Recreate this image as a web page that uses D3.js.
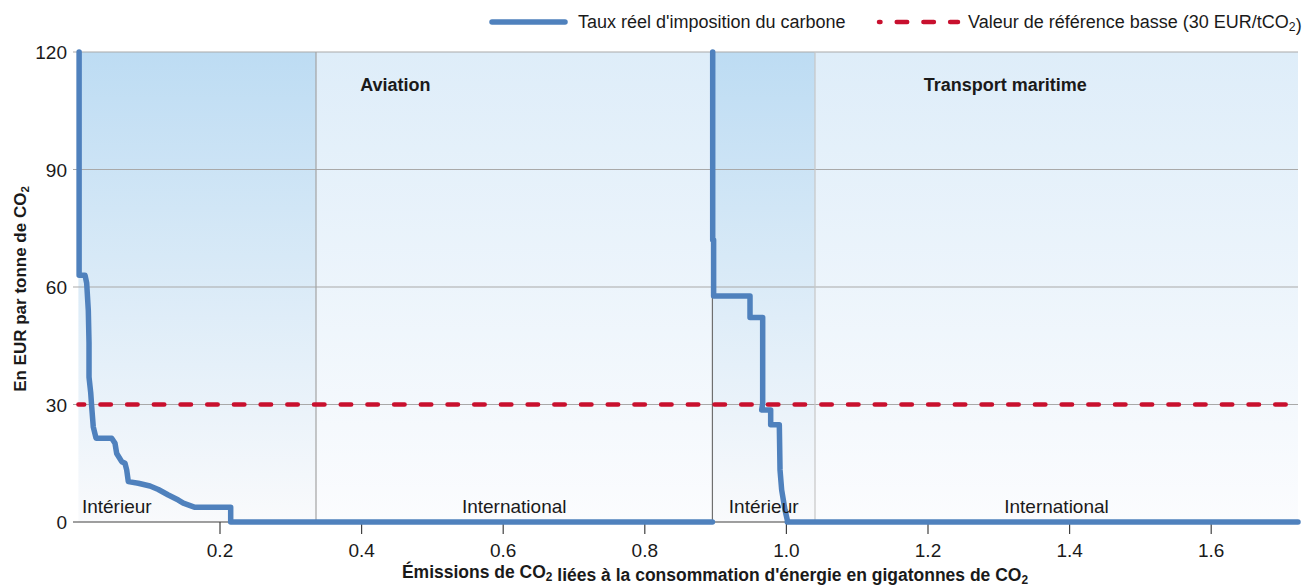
<!DOCTYPE html>
<html><head><meta charset="utf-8">
<script src="https://cdn.jsdelivr.net/npm/d3@7"></script>
<style>
body{margin:0;background:#fff;}
text{font-family:"Liberation Sans",Arial,sans-serif;fill:#1a1a1a;}
</style></head><body>
<svg id="chart" width="1309" height="586"></svg>
<script>
// ---- data ----
const aviationX = [0.001, 0.001, 0.0094, 0.0117, 0.014, 0.015, 0.015, 0.0174, 0.0188, 0.021, 0.0249, 0.047, 0.0517, 0.0541, 0.0612, 0.0658, 0.0682, 0.0705, 0.0846, 0.1011, 0.1129, 0.127, 0.1411, 0.1482, 0.1647, 0.2151, 0.2151, 0.8955];
const aviationY = [120, 63, 63, 61, 54, 45.7, 37, 33, 29.4, 24.3, 21.4, 21.4, 20.1, 17.5, 15.4, 15, 13.3, 10.3, 9.9, 9.2, 8.3, 6.9, 5.6, 4.8, 3.75, 3.75, 0, 0];
const maritimeX = [0.8959, 0.8959, 0.8972, 0.8972, 0.9486, 0.9486, 0.9665, 0.9665, 0.9651, 0.9778, 0.9778, 0.990, 0.991, 0.9933, 0.998, 1.0013, 1.0013, 1.7226];
const maritimeY = [120, 72, 72, 57.7, 57.7, 52.2, 52.2, 30.3, 28.6, 28.6, 24.8, 24.8, 13.3, 8.2, 3.1, 0.5, 0, 0];
const segmentBounds = [0, 0.3356, 0.8955, 1.0404, 1.7226];
const segmentLabels = ["Intérieur", "International", "Intérieur", "International"];
const sectorLabels = ["Aviation", "Transport maritime"];
const referenceValue = 30;
const xTicks = [0.2, 0.4, 0.6, 0.8, 1.0, 1.2, 1.4, 1.6];
const yTicks = [0, 30, 60, 90, 120];
const legendLabels = ["Taux réel d'imposition du carbone", "Valeur de référence basse (30 EUR/tCO₂)"];
const yTitle = "En EUR par tonne de CO₂";
const xTitle = "Émissions de CO₂ liées à la consommation d'énergie en gigatonnes de CO₂";

// ---- setup ----
const svg = d3.select("#chart");
const x = d3.scaleLinear().domain([0, 1.7226]).range([78.4, 1298]);
const y = d3.scaleLinear().domain([0, 120]).range([522, 52]);
const BLUE = "#4f81bd", RED = "#c8102e";

function addText(sel, str) {
  const parts = str.split("₂");
  parts.forEach((p, i) => {
    sel.append("tspan").text(p);
    if (i < parts.length - 1) {
      sel.append("tspan").attr("font-size", "0.68em").attr("dy", "0.25em").text("2");
      sel.append("tspan").attr("dy", "-0.25em").text("");
    }
  });
}

const defs = svg.append("defs");
function grad(id, c0, c1) {
  const g = defs.append("linearGradient").attr("id", id).attr("x1", 0).attr("y1", 0).attr("x2", 0).attr("y2", 1);
  g.append("stop").attr("offset", 0).attr("stop-color", c0);
  g.append("stop").attr("offset", 1).attr("stop-color", c1);
}
grad("gDom", "#bddcf3", "#f9fafc");
grad("gInt", "#deedf9", "#fbfcfe");

// backgrounds
svg.selectAll("rect.bg").data(segmentLabels).enter().append("rect")
  .attr("x", (d, i) => x(segmentBounds[i]))
  .attr("width", (d, i) => x(segmentBounds[i + 1]) - x(segmentBounds[i]))
  .attr("y", y(120)).attr("height", y(0) - y(120))
  .attr("fill", (d, i) => i % 2 === 0 ? "url(#gDom)" : "url(#gInt)");

// gridlines
svg.selectAll("line.grid").data(yTicks.filter(v => v > 0)).enter().append("line")
  .attr("x1", 73).attr("x2", x(1.7226)).attr("y1", d => y(d)).attr("y2", d => y(d))
  .attr("stroke", "#a9a9a9").attr("stroke-width", 1);

// separators
const sepColors = ["#a3a3a3", "#6f6f6f", "#c6c6c6"];
svg.selectAll("line.sep").data(segmentBounds.slice(1, 4)).enter().append("line")
  .attr("x1", d => x(d)).attr("x2", d => x(d)).attr("y1", y(120)).attr("y2", y(0))
  .attr("stroke", (d, i) => sepColors[i]).attr("stroke-width", 1.2);

// x axis line & ticks
svg.append("line").attr("x1", 73).attr("x2", x(1.7226)).attr("y1", y(0)).attr("y2", y(0))
  .attr("stroke", "#404040").attr("stroke-width", 1);
svg.selectAll("line.xt").data(xTicks).enter().append("line")
  .attr("x1", d => x(d)).attr("x2", d => x(d)).attr("y1", y(0)).attr("y2", y(0) + 12)
  .attr("stroke", "#404040").attr("stroke-width", 1.2);
svg.selectAll("text.xt").data(xTicks).enter().append("text")
  .attr("x", d => x(d)).attr("y", 557).attr("text-anchor", "middle").attr("font-size", 19)
  .text(d => d3.format(".1f")(d));
svg.selectAll("text.yt").data(yTicks).enter().append("text")
  .attr("x", 67).attr("y", d => y(d) + 7).attr("text-anchor", "end").attr("font-size", 19)
  .text(d => d);

// reference dashed line
svg.append("line").attr("x1", x(0)).attr("x2", x(1.7226)).attr("y1", y(referenceValue)).attr("y2", y(referenceValue))
  .attr("stroke", RED).attr("stroke-width", 4.5).attr("stroke-linecap", "round")
  .attr("stroke-dasharray", "10.5 16.2").attr("stroke-dashoffset", 4.7);

// curves
const line = d3.line().x(d => x(d[0])).y(d => y(d[1]));
[[aviationX, aviationY], [maritimeX, maritimeY]].forEach(([xs, ys]) => {
  svg.append("path").datum(xs.map((v, i) => [v, ys[i]]))
    .attr("d", line).attr("fill", "none").attr("stroke", BLUE).attr("stroke-width", 5.5)
    .attr("stroke-linejoin", "round").attr("stroke-linecap", "round");
});

// segment labels
svg.selectAll("text.seg").data(segmentLabels).enter().append("text")
  .attr("x", (d, i) => i === 0 ? x(segmentBounds[0]) + 3.5 : (x(segmentBounds[i]) + x(segmentBounds[i + 1])) / 2)
  .attr("y", 513).attr("text-anchor", (d, i) => i === 0 ? "start" : "middle").attr("font-size", 19)
  .text(d => d);
// sector labels
svg.selectAll("text.sec").data(sectorLabels).enter().append("text")
  .attr("x", (d, i) => (x(segmentBounds[2 * i]) + x(segmentBounds[2 * i + 2])) / 2)
  .attr("y", 91).attr("text-anchor", "middle").attr("font-size", 18).attr("font-weight", "bold")
  .text(d => d);

// axis titles
const yt = svg.append("text").attr("transform", "translate(26,289) rotate(-90)")
  .attr("text-anchor", "middle").attr("font-size", 17).attr("font-weight", "bold");
addText(yt, yTitle);
const xt = svg.append("text").attr("x", 715).attr("y", 578)
  .attr("text-anchor", "middle").attr("font-size", 17.5).attr("font-weight", "bold");
addText(xt, xTitle);

// legend
svg.append("line").attr("x1", 492).attr("x2", 565).attr("y1", 22).attr("y2", 22)
  .attr("stroke", BLUE).attr("stroke-width", 5.5).attr("stroke-linecap", "round");
svg.append("text").attr("x", 578).attr("y", 28).attr("font-size", 18).text(legendLabels[0]);
svg.append("line").attr("x1", 879).attr("x2", 958).attr("y1", 22).attr("y2", 22)
  .attr("stroke", RED).attr("stroke-width", 4.5).attr("stroke-linecap", "round")
  .attr("stroke-dasharray", "10.5 16.2").attr("stroke-dashoffset", 9);
const lt = svg.append("text").attr("x", 968).attr("y", 28).attr("font-size", 18);
addText(lt, legendLabels[1]);
</script>
</body></html>
